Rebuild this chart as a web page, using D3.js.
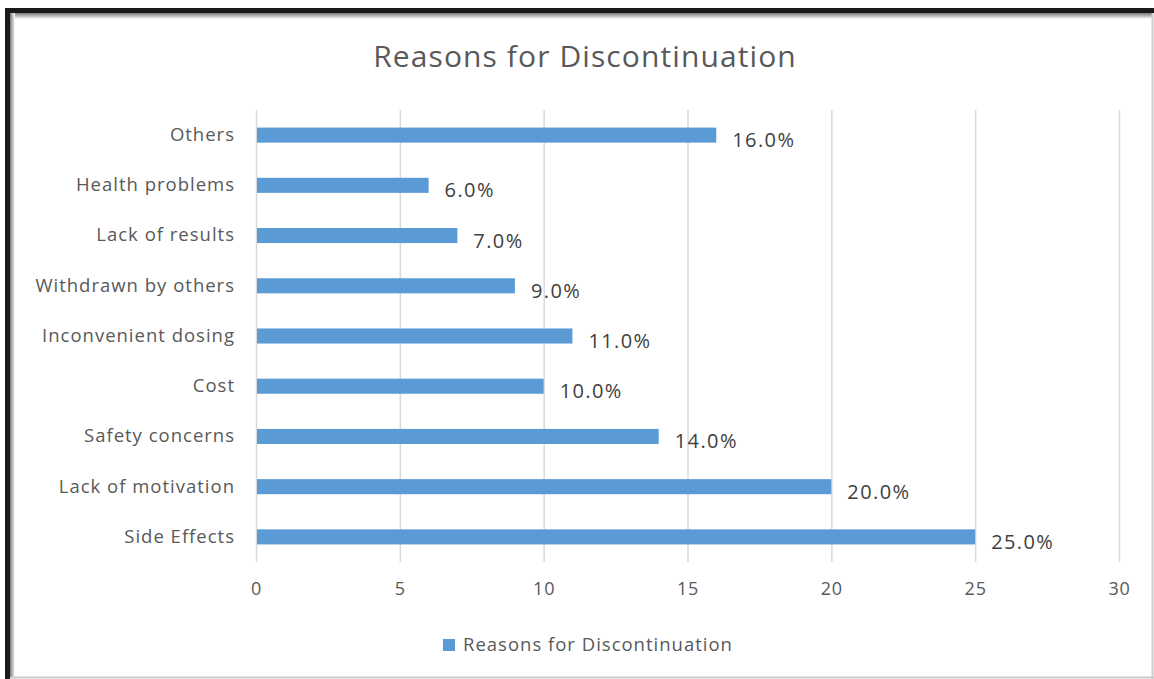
<!DOCTYPE html>
<html>
<head>
<meta charset="utf-8">
<script src="https://cdn.jsdelivr.net/npm/d3@7"></script>
<style>
  body { margin: 0; background: #fff; }
  svg { display: block; font-family: 'Open Sans', sans-serif; }
</style>
</head>
<body>
<svg id="drawing_region"></svg>
<script>
// data, top to bottom as drawn
const categories = ['Others', 'Health problems', 'Lack of results', 'Withdrawn by others',
    'Inconvenient dosing', 'Cost', 'Safety concerns', 'Lack of motivation', 'Side Effects'];
const values = [16, 6, 7, 9, 11, 10, 14, 20, 25];
const xticks = [0, 5, 10, 15, 20, 25, 30];
const title = 'Reasons for Discontinuation';
const series_name = 'Reasons for Discontinuation';

const width = 1154, height = 679;
const margin = {top: 110, left: 256, right: 35, bottom: 117};

const svg = d3.select('#drawing_region')
    .attr('width', width)
    .attr('height', height);

// frame of the screenshot
const defs = svg.append('defs');
const gt = defs.append('linearGradient').attr('id', 'shadow_top').attr('x1', 0).attr('y1', 0).attr('x2', 0).attr('y2', 1);
gt.append('stop').attr('offset', '0%').attr('stop-color', '#777');
gt.append('stop').attr('offset', '100%').attr('stop-color', '#fff');
const gl = defs.append('linearGradient').attr('id', 'shadow_left').attr('x1', 0).attr('y1', 0).attr('x2', 1).attr('y2', 0);
gl.append('stop').attr('offset', '0%').attr('stop-color', '#777');
gl.append('stop').attr('offset', '100%').attr('stop-color', '#fff');

svg.append('rect').attr('x', 0).attr('y', 0).attr('width', width).attr('height', height).attr('fill', '#fff');
svg.append('rect').attr('x', 5).attr('y', 8).attr('width', width - 5).attr('height', 5).attr('fill', '#1a1a1a');
svg.append('rect').attr('x', 5).attr('y', 8).attr('width', 5).attr('height', height - 8).attr('fill', '#1a1a1a');
svg.append('rect').attr('x', 10).attr('y', 13).attr('width', width - 12).attr('height', 6).attr('fill', 'url(#shadow_top)');
svg.append('rect').attr('x', 10).attr('y', 13).attr('width', 5).attr('height', height - 15).attr('fill', 'url(#shadow_left)');
svg.append('line').attr('x1', width - 1.5).attr('x2', width - 1.5).attr('y1', 13).attr('y2', height).attr('stroke', '#ccc').attr('stroke-width', 2);
svg.append('line').attr('x1', 10).attr('x2', width).attr('y1', height - 1.5).attr('y2', height - 1.5).attr('stroke', '#ccc').attr('stroke-width', 2);

const xscale = d3.scaleLinear()
    .domain([0, 30])
    .range([margin.left, margin.left + 863]);

const yscale = d3.scaleBand()
    .domain(categories)
    .range([margin.top, margin.top + 452])
    .paddingInner(0.7)
    .paddingOuter(0.35);

// gridlines
svg.append('g')
    .selectAll('line')
    .data(xticks)
    .join('line')
    .attr('x1', d => xscale(d) + 0.5)
    .attr('x2', d => xscale(d) + 0.5)
    .attr('y1', margin.top)
    .attr('y2', margin.top + 452)
    .attr('stroke', '#d9d9d9')
    .attr('stroke-width', 1.5);

// x axis labels
const xaxis = d3.axisBottom(xscale)
    .tickValues(xticks)
    .tickSize(0)
    .tickPadding(20);
svg.append('g')
    .attr('transform', `translate(0, ${margin.top + 452})`)
    .call(xaxis)
    .call(g => g.select('.domain').remove())
    .call(g => g.selectAll('text')
        .attr('fill', '#595959')
        .attr('font-size', '18px')
        .attr('letter-spacing', '0.8px')
        .attr('font-family', "'Open Sans', sans-serif"));

// y axis labels
const yaxis = d3.axisLeft(yscale)
    .tickSize(0)
    .tickPadding(21);
svg.append('g')
    .attr('transform', `translate(${margin.left}, 0)`)
    .call(yaxis)
    .call(g => g.select('.domain').remove())
    .call(g => g.selectAll('text')
        .attr('fill', '#595959')
        .attr('font-size', '18.5px')
        .attr('letter-spacing', '1px')
        .attr('font-family', "'Open Sans', sans-serif"));

// bars
const data = categories.map((c, i) => ({category: c, value: values[i]}));
svg.append('g')
    .selectAll('rect')
    .data(data)
    .join('rect')
    .attr('x', xscale(0) + 1)
    .attr('y', d => yscale(d.category))
    .attr('width', d => xscale(d.value) - xscale(0) - 1)
    .attr('height', yscale.bandwidth())
    .attr('fill', '#5b9bd5');

// data labels
svg.append('g')
    .selectAll('text')
    .data(data)
    .join('text')
    .attr('x', d => xscale(d.value) + 16)
    .attr('y', d => yscale(d.category) + yscale.bandwidth() / 2 + 5)
    .attr('dy', '0.35em')
    .attr('fill', '#404040')
    .attr('font-size', '20px')
    .attr('letter-spacing', '1.4px')
    .text(d => d.value.toFixed(1) + '%');

// title
svg.append('text')
    .attr('x', 585)
    .attr('y', 67)
    .attr('text-anchor', 'middle')
    .attr('fill', '#595959')
    .attr('font-size', '30px')
    .attr('letter-spacing', '1.1px')
    .text(title);

// legend
const legend = svg.append('g').attr('transform', 'translate(443, 639)');
legend.append('rect')
    .attr('width', 12).attr('height', 12)
    .attr('fill', '#5b9bd5');
legend.append('text')
    .attr('x', 20)
    .attr('y', 6)
    .attr('dy', '0.35em')
    .attr('fill', '#595959')
    .attr('font-size', '18.5px')
    .attr('letter-spacing', '1px')
    .text(series_name);
</script>
</body>
</html>
